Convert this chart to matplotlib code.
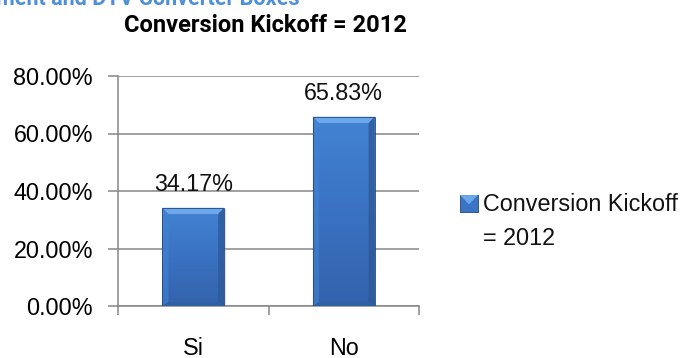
import matplotlib.pyplot as plt
import numpy as np
from matplotlib.patches import Rectangle, Polygon

plt.rcParams['font.family'] = ['Liberation Sans', 'DejaVu Sans']

# Datos
categorias = ["Si", "No"]
valores = [0.3417, 0.6583]
etiquetas = ["34.17%", "65.83%"]
serie = "Conversion Kickoff\n= 2012"
titulo = "Conversion Kickoff = 2012"
marcas_y = [0.0, 0.2, 0.4, 0.6, 0.8]

W, H = 686, 358
fig = plt.figure(figsize=(W / 100, H / 100), dpi=100)
ax = fig.add_axes([118 / W, 1 - 306 / H, 301 / W, 230 / H])

gris = "#868686"
ancho = 0.41
fs = 16.8
x = np.arange(len(categorias))

ax.set_xlim(-0.5, len(categorias) - 0.5)
ax.set_ylim(0, 0.8)

# rejilla horizontal
for v in marcas_y:
    ax.axhline(v, color=gris, lw=1.1, zorder=1)

grad = np.linspace(0, 1, 64).reshape(-1, 1)
cmap_barra = plt.matplotlib.colors.LinearSegmentedColormap.from_list(
    "azul", ["#3363AC", "#3A72C2", "#4383D3"])

bx = 0.04    # bisel en x (unidades de datos)
by = 0.022   # bisel en y
for xi, v in zip(x, valores):
    x0, x1 = xi - ancho / 2, xi + ancho / 2
    # sombra
    ax.add_patch(Rectangle((x1, 0), 0.012, v - 0.004, color="#9aa3ad", alpha=0.4, lw=0, zorder=2))
    base = Rectangle((x0, 0), ancho, v, facecolor="#3B74C4", edgecolor="none", zorder=3)
    ax.add_patch(base)
    im = ax.imshow(grad, extent=(x0, x1, 0, v), aspect="auto", cmap=cmap_barra,
                   origin="lower", zorder=3.1)
    im.set_clip_path(base)
    # biseles
    ax.add_patch(Polygon([(x0, v), (x1, v), (x1 - bx, v - by), (x0 + bx, v - by)],
                         closed=True, facecolor="#6CA7EC", edgecolor="none", zorder=4))
    ax.add_patch(Polygon([(x0, v), (x0 + bx, v - by), (x0 + bx, by * 0.6), (x0, 0)],
                         closed=True, facecolor="#4283D4", alpha=0.6, edgecolor="none", zorder=4))
    ax.add_patch(Polygon([(x1, v), (x1 - bx, v - by), (x1 - bx, by * 0.6), (x1, 0)],
                         closed=True, facecolor="#2D5A99", alpha=0.8, edgecolor="none", zorder=4))
    ax.add_patch(Polygon([(x0, 0), (x0 + bx, by * 0.6), (x1 - bx, by * 0.6), (x1, 0)],
                         closed=True, facecolor="#2F5FA3", alpha=0.8, edgecolor="none", zorder=4))
    ax.add_patch(Rectangle((x0, 0), ancho, v, facecolor="none", edgecolor="#24487d",
                           lw=0.6, zorder=5))

for xi, v, t in zip(x, valores, etiquetas):
    ax.annotate(t, (xi, v), xytext=(0, 8.5), textcoords="offset points",
                ha="center", va="bottom", fontsize=fs, color="#111111")

# ejes
for s in ["top", "right"]:
    ax.spines[s].set_visible(False)
ax.spines["left"].set_color(gris)
ax.spines["bottom"].set_color(gris)
ax.spines["left"].set_linewidth(1.1)
ax.spines["bottom"].set_linewidth(1.1)

ax.set_yticks(marcas_y)
ax.set_yticklabels([f"{v * 100:.2f}%" for v in marcas_y])
ax.tick_params(axis="y", length=7, width=1.1, color=gris, pad=11, labelsize=fs)

ax.set_xticks(x)
ax.set_xticklabels(categorias)
ax.tick_params(axis="x", which="major", length=0, pad=22, labelsize=fs)
ax.set_xticks(np.arange(-0.5, len(categorias)), minor=True)
ax.tick_params(axis="x", which="minor", length=6.5, width=1.1, color=gris, direction="out")

# titulo
fig.text(265 / W, 1 - 32 / H, titulo, ha="center", va="baseline",
         fontsize=17, fontweight="bold", color="black",
         family=['Roboto', 'Liberation Sans'])

# texto azul cortado en la parte superior
fig.text(300 / W, 1 - 4.5 / H, "Equipment and DTV Converter Boxes", ha="right",
         va="baseline", fontsize=15.5, fontweight="bold", color="#4F8FD8",
         family=['Roboto', 'Liberation Sans'])

# leyenda
lx, ly, lw, lh = 460 / W, 1 - 212 / H, 18 / W, 17 / H
fig.patches.append(Rectangle((lx, ly), lw, lh, transform=fig.transFigure,
                             facecolor="#3B74C4", edgecolor="#24487d", lw=0.6))
fig.patches.append(Polygon([(lx, ly + lh), (lx + lw, ly + lh),
                            (lx + lw * 0.5, ly + lh * 0.45)], closed=True,
                           transform=fig.transFigure, facecolor="#6CA7EC",
                           edgecolor="none"))
fig.text(483 / W, 1 - 245 / H, serie, ha="left", va="baseline", fontsize=fs,
         linespacing=1.6, color="#111111")

fig.savefig("out.png", dpi=100)
